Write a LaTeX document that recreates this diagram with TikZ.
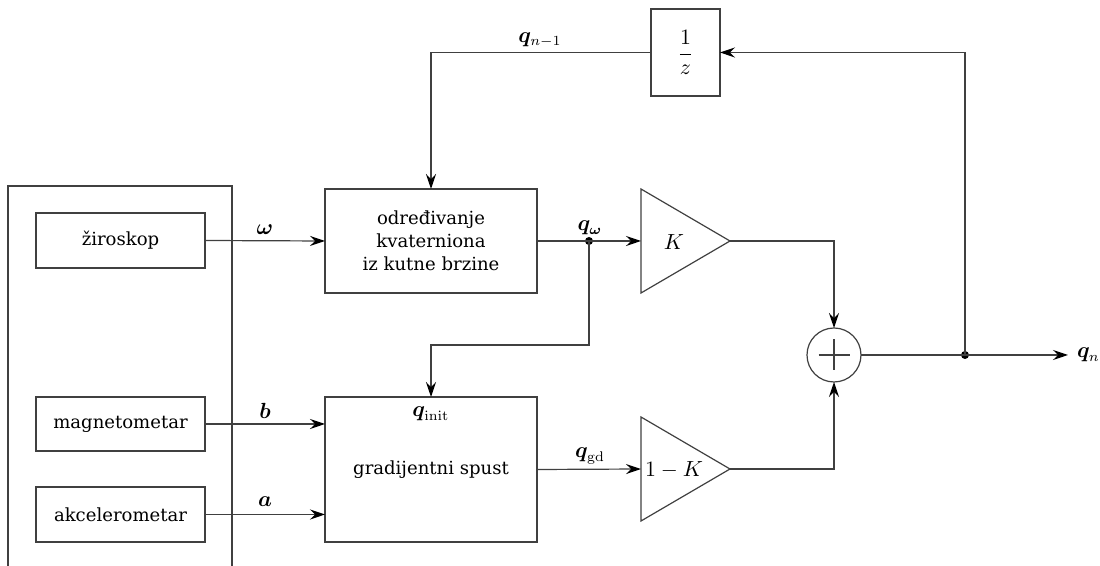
\documentclass[tikz,border=0pt]{standalone}
\usepackage{amsmath}
\usepackage{bm}
\usepackage[no-math]{fontspec}
\setmainfont{DejaVu Serif}[Scale=0.86]
\usetikzlibrary{arrows.meta,calc}
\begin{document}
\fontsize{10.5}{12.6}\selectfont
\begin{tikzpicture}[x=0.5pt,y=-0.5pt,
  every node/.style={inner sep=0pt,outer sep=0pt},
  line/.style={draw=black!75,line width=0.6pt},
  block/.style={line,rectangle,align=center},
  arr/.style={line,-{Stealth[length=7.5pt,width=5pt,inset=2.6pt,black]}},
  dotn/.style={circle,fill=black,minimum size=4pt},
  lbl/.style={font=\normalsize}]
\useasboundingbox (0,0) rectangle (1100,566);
% outer sensor frame
\draw[line] (8,566) -- (8,186) -- (232,186) -- (232,566);
% sensor blocks
\node[block,minimum width=84.5pt,minimum height=27.5pt] (gyro) at (120.5,240.5) {žiroskop};
\node[block,minimum width=84.5pt,minimum height=27pt] (mag) at (120.5,424) {magnetometar};
\node[block,minimum width=84.5pt,minimum height=27.5pt] (acc) at (120.5,514.5) {akcelerometar};
% processing blocks
\node[block,minimum width=106pt,minimum height=52pt] (ode) at (431,241) {određivanje\\[-1pt]kvaterniona\\[-1pt]iz kutne brzine};
\node[block,minimum width=106pt,minimum height=72.5pt] (gd) at (431,469.5) {gradijentni spust};
\node[block,minimum width=34.5pt,minimum height=43.5pt] (delay) at (685.5,52.5) {$\dfrac{1}{z}$};
% gain triangles
\draw[line] (641,189) -- (730,241) -- (641,293) -- cycle;
\coordinate (Kin) at (641,241);
\coordinate (Kout) at (730,241);
\node (Klbl) at (674,242) {$K$};
\draw[line] (641,417) -- (730,469) -- (641,521) -- cycle;
\coordinate (Ain) at (641,469);
\coordinate (Aout) at (730,469);
\node (Albl) at (674,470) {$1-K$};
% summation
\node[line,circle,minimum size=27pt] (sum) at (834,355) {};
\draw[line] ($(sum.center)+(-15.5,0)$) -- ($(sum.center)+(15.5,0)$);
\draw[line] ($(sum.center)+(0,-15.5)$) -- ($(sum.center)+(0,15.5)$);
% junction dots
\node[dotn] (d1) at (589,241) {};
\node[dotn] (d2) at (965,355) {};
\coordinate (qn) at (1068,355);
% connectors
\draw[arr] (gyro.east) -- (ode.west);
\draw[arr] (mag.east) -- (mag.east -| gd.west);
\draw[arr] (acc.east) -- (acc.east -| gd.west);
\draw[line] (ode.east) -- (d1.center);
\draw[arr] (d1.center) -- (Kin);
\draw[arr] (d1.center) -- (589,345) -- (431,345) -- (gd.north);
\draw[arr] (gd.east) -- (Ain);
\draw[arr] (Kout) -- (Kout -| sum.north) -- (sum.north);
\draw[arr] (Aout) -- (Aout -| sum.south) -- (sum.south);
\draw[line] (sum.east) -- (d2.center);
\draw[arr] (d2.center) -- (qn);
\draw[arr] (d2.center) -- (d2.center |- delay.east) -- (delay.east);
\draw[arr] (delay.west) -- (delay.west -| ode.north) -- (ode.north);
% labels
\node (lw) at (265,230) {$\bm{\omega}$};
\node (lb) at (265,411) {$\bm{b}$};
\node (la) at (265,502) {$\bm{a}$};
\node (lqn1) at (540,40) {$\bm{q}_{n-1}$};
\node (lqw) at (590,228) {$\bm{q}_{\bm{\omega}}$};
\node (lqi) at (431,414) {$\bm{q}_{\mathrm{init}}$};
\node (lqgd) at (590,456) {$\bm{q}_{\mathrm{gd}}$};
\node[anchor=west] (lqn) at (1077,355) {$\bm{q}_{n}$};
\end{tikzpicture}
\end{document}
